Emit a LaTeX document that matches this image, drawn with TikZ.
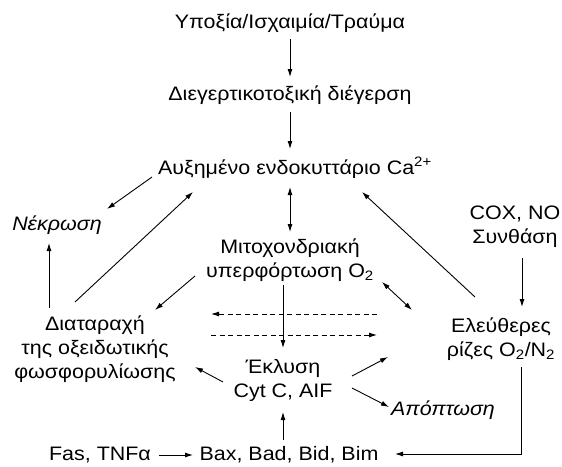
\documentclass[tikz,border=0pt]{standalone}
\usepackage{fontspec}
\setmainfont{Liberation Sans}[FakeStretch=1.1]
\usetikzlibrary{arrows.meta}

\tikzset{
  txt/.style={inner sep=0pt, align=center, font=\fontsize{19.5}{24}\selectfont},
  arr/.style={-{Latex[length=8pt,width=5pt]}, line width=0.9pt},
  dbl/.style={{Latex[length=8pt,width=5pt]}-{Latex[length=8pt,width=5pt]}, line width=0.9pt},
  dsh/.style={arr, dash pattern=on 5pt off 3.5pt},
}

\begin{document}
\begin{tikzpicture}[x=1pt,y=-1pt]
  \useasboundingbox (0,0) rectangle (562,466);

  % nodes
  \node[txt] (cause)   at (290,23)  {Υποξία/Ισχαιμία/Τραύμα};
  \node[txt] (excit)   at (290,95)  {Διεγερτικοτοξική διέγερση};
  \node[txt] (calcium) at (295,168) {Αυξημένο ενδοκυττάριο Ca\textsuperscript{2+}};
  \node[txt] (necro)   at (57,225)  {\itshape Νέκρωση};
  \node[txt] (mito)    at (290,260) {Μιτοχονδριακή\\υπερφόρτωση O\textsubscript{2}};
  \node[txt] (oxphos)  at (95,349)  {Διαταραχή\\της οξειδωτικής\\φωσφορυλίωσης};
  \node[txt] (release) at (283,380) {Έκλυση\\Cyt C, AIF};
  \node[txt] (apopt)   at (443,410) {\itshape Απόπτωση};
  \node[txt] (cox)     at (515,227) {COX, NO\\Συνθάση};
  \node[txt] (radic)   at (501,339) {Ελεύθερες\\ρίζες O\textsubscript{2}/N\textsubscript{2}};
  \node[txt] (fas)     at (100,455) {Fas, TNFα};
  \node[txt] (bax)     at (289,455) {Bax, Bad, Bid, Bim};

  \coordinate (free) at (388,357);
  \coordinate (dashL) at (211,314);
  \coordinate (dashR) at (377,314);

  % main chain
  \draw[arr] ([shift={(0,16)}]cause.center) -- ([shift={(0,-18)}]excit.center);
  \draw[arr] ([shift={(0,17)}]excit.center) -- ([shift={(-5,-19)}]calcium.center);
  \draw[dbl] ([shift={(-5,19)}]calcium.center) -- ([shift={(0,-28)}]mito.center);

  % left side
  \draw[arr] ([shift={(-143,9)}]calcium.center) -- ([shift={(50,-16)}]necro.center);
  \draw[arr] ([shift={(-20,-47)}]oxphos.center) -- ([shift={(-102,24)}]calcium.center);
  \draw[arr] ([shift={(-46,-41)}]oxphos.center) -- ([shift={(-8,18)}]necro.center);
  \draw[arr] ([shift={(-95,16)}]mito.center) -- ([shift={(60,-39)}]oxphos.center);

  % right side
  \draw[dbl] ([shift={(92,22)}]mito.center) -- ([shift={(-89,-29)}]radic.center);
  \draw[arr] ([shift={(-26,-42)}]radic.center) -- ([shift={(67,24)}]calcium.center);
  \draw[arr] ([shift={(7,31)}]cox.center) -- ([shift={(21,-32)}]radic.center);

  % middle
  \draw[arr] ([shift={(-7,25)}]mito.center) -- ([shift={(0,-32)}]release.center);
  \draw[dsh] (dashR) -- (dashL);
  \draw[dsh] (dashL |- 0,335) -- (dashR |- 0,335);
  \draw[arr] ([shift={(-60,2)}]release.center) -- ([shift={(100,18)}]oxphos.center);
  \draw[arr] ([shift={(69,-4)}]release.center) -- (free);
  \draw[arr] ([shift={(69,8)}]release.center) -- ([shift={(-54,-3)}]apopt.center);

  % bottom
  \draw[arr] ([shift={(-6,-15)}]bax.center) -- ([shift={(0,32)}]release.center);
  \draw[arr] ([shift={(59,0)}]fas.center) -- ([shift={(-96,0)}]bax.center);
  \draw[arr] ([shift={(20,28)}]radic.center) |- ([shift={(106,-1)}]bax.center);
\end{tikzpicture}
\end{document}
